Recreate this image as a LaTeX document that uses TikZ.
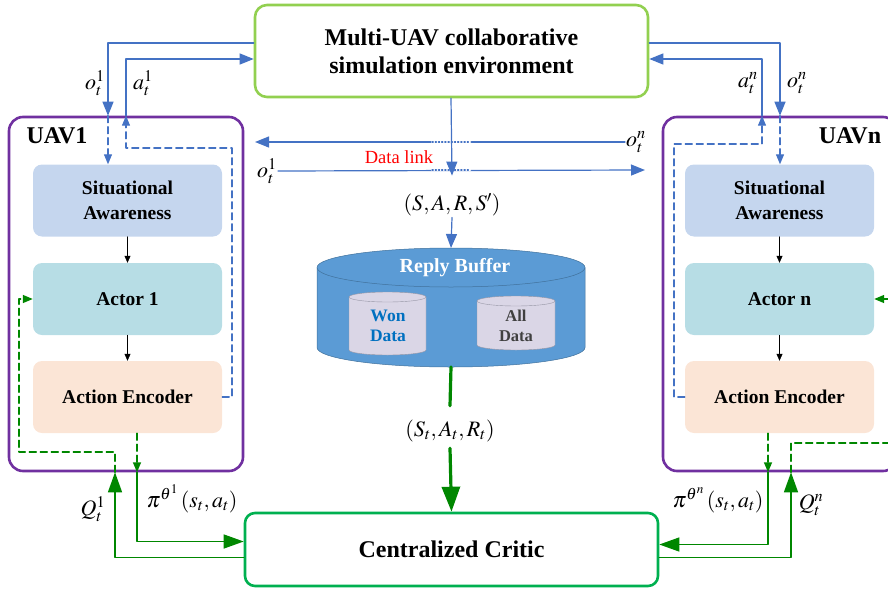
\documentclass[tikz,border=0pt]{standalone}
\usepackage{amsmath}
\usepackage{mathptmx}
\usepackage{fontspec}
\setmainfont{Liberation Serif}
\newfontfamily\tnr{Liberation Serif}
\usetikzlibrary{arrows.meta}

\definecolor{lblue}{RGB}{68,114,196}
\definecolor{lgreen}{RGB}{0,135,0}
\definecolor{envGreen}{RGB}{146,208,80}
\definecolor{critGreen}{RGB}{0,176,80}
\definecolor{uavPurple}{RGB}{112,48,160}
\definecolor{saBlue}{RGB}{197,214,238}
\definecolor{actCyan}{RGB}{183,221,229}
\definecolor{encPeach}{RGB}{251,229,214}
\definecolor{bufBlue}{RGB}{91,155,213}
\definecolor{bufEdge}{RGB}{65,113,156}
\definecolor{dataFill}{RGB}{218,214,230}
\definecolor{dataEdge}{RGB}{150,150,165}
\definecolor{wonBlue}{RGB}{0,112,192}

\begin{document}
\begin{tikzpicture}[line cap=round,line join=round,x=1pt,y=-1pt,
  >={Triangle[length=14pt,width=11pt]},
  bl/.style={color=lblue,line width=1.2pt},
  gl/.style={color=lgreen,line width=1.4pt},
  dsh/.style={dash pattern=on 7pt off 4pt},
  tips/.style={>={Triangle[length=10pt,width=8pt]}},
  tipk/.style={>={Triangle[length=7pt,width=6pt]}},
  tipg/.style={>={Triangle[length=20pt,width=14pt]}},
  tipx/.style={>={Triangle[length=25pt,width=18pt]}},
  blk/.style={rounded corners=9pt,minimum width=189pt,minimum height=72pt,align=center,font=\tnr\fontsize{19.5}{25}\selectfont\bfseries},
  uav/.style={draw=uavPurple,line width=2.6pt,rounded corners=14pt,minimum width=234pt,minimum height=354pt},
  lbl/.style={font=\fontsize{22}{24}\selectfont,inner sep=1pt}]

\useasboundingbox (0,0) rectangle (888,589);
\clip (0,0) rectangle (888,589);

\node[draw=envGreen,line width=2.6pt,rounded corners=12pt,minimum width=393pt,minimum height=92pt,align=center,font=\tnr\fontsize{24}{28}\selectfont\bfseries] (env) at (451.5,51) {Multi-UAV collaborative\\simulation environment};

\node[uav] (uavA) at (126,294) {};
\node[uav] (uavB) at (780,294) {};
\node[font=\tnr\fontsize{24}{26}\selectfont\bfseries] (uavAlbl) at (57,136) {UAV1};
\node[font=\tnr\fontsize{24}{26}\selectfont\bfseries] (uavBlbl) at (850,136) {UAVn};

\node[blk,fill=saBlue] (sa1) at (127.5,200.5) {Situational\\Awareness};
\node[blk,fill=actCyan] (act1) at (127.5,299) {Actor 1};
\node[blk,fill=encPeach] (enc1) at (127.5,397) {Action Encoder};
\node[blk,fill=saBlue] (saN) at (779.5,200.5) {Situational\\Awareness};
\node[blk,fill=actCyan] (actN) at (779.5,299) {Actor n};
\node[blk,fill=encPeach] (encN) at (779.5,397) {Action Encoder};

\draw[->,tipk,line width=0.6pt] (sa1) -- (act1);
\draw[->,tipk,line width=0.6pt] (act1) -- (enc1);
\draw[->,tipk,line width=0.6pt] (saN) -- (actN);
\draw[->,tipk,line width=0.6pt] (actN) -- (encN);

\node[draw=critGreen,line width=2.6pt,rounded corners=10pt,minimum width=413pt,minimum height=73pt,font=\tnr\fontsize{24}{26}\selectfont\bfseries] (critic) at (451.5,549.5) {Centralized Critic};

\draw[fill=bufBlue,draw=bufEdge,line width=0.5pt] (317,267.5) -- (317,347.5) arc[start angle=180,end angle=360,x radius=134pt,y radius=19.5pt] -- (585,267.5) -- cycle;
\draw[fill=bufBlue,draw=bufEdge,line width=0.5pt] (451,267.5) ellipse[x radius=134pt,y radius=19.5pt];
\draw[fill=dataFill,draw=dataEdge,line width=0.4pt] (349,297) -- (349,350) arc[start angle=180,end angle=360,x radius=38.5pt,y radius=5pt] -- (426,297) -- cycle;
\draw[fill=dataFill,draw=dataEdge,line width=0.4pt] (387.5,297) ellipse[x radius=38.5pt,y radius=5pt];
\draw[fill=dataFill,draw=dataEdge,line width=0.4pt] (477,301) -- (477,345) arc[start angle=180,end angle=360,x radius=39pt,y radius=5pt] -- (555,301) -- cycle;
\draw[fill=dataFill,draw=dataEdge,line width=0.4pt] (516,301) ellipse[x radius=39pt,y radius=5pt];
\node[font=\tnr\fontsize{20}{22}\selectfont\bfseries,text=white] (bufLbl) at (455,268) {Reply Buffer};
\node[font=\tnr\fontsize{17.5}{19.5}\selectfont\bfseries,text=wonBlue,align=center] (won) at (388,326) {Won\\Data};
\node[font=\tnr\fontsize{16.5}{19.5}\selectfont\bfseries,text=black!75,align=center] (all) at (516,326) {All\\Data};
\coordinate (bufTop) at (451,248);
\coordinate (bufBot) at (451,367);

\coordinate (o1) at (108,0);
\coordinate (a1) at (126,0);
\coordinate (d1) at (232,0);
\coordinate (p1) at (137,0);
\coordinate (q1) at (115,0);
\coordinate (l1) at (19,0);
\coordinate (r1) at (0,148);
\coordinate (s1) at (0,452);
\coordinate (oN) at (780,0);
\coordinate (aN) at (762,0);
\coordinate (dN) at (674,0);
\coordinate (pN) at (768,0);
\coordinate (qN) at (791,0);
\coordinate (rN) at (0,144);
\coordinate (sN) at (900,443);
\coordinate (actIn) at (900,299);
\coordinate (dlA) at (255,142);
\coordinate (dlB) at (645,170);
\coordinate (hopL) at (432,0);
\coordinate (hopR) at (470,0);

\node[lbl] (o1Top) at (95,83) {$o_t^1$};
\node[lbl] (a1Top) at (143,83) {$a_t^1$};
\node[lbl] (aNTop) at (748,83) {$a_t^n$};
\node[lbl] (oNTop) at (797,83) {$o_t^n$};
\node[lbl] (oNLink) at (636,142) {$o_t^n$};
\node[lbl] (o1Link) at (267,171) {$o_t^1$};
\node[text=red,font=\tnr\fontsize{18.5}{20}\selectfont] (dl) at (399,157) {Data link};
\node[lbl] (sars) at (452,205) {$(S,A,R,S')$};
\node[lbl] (stLbl) at (450,431) {$(S_t,A_t,R_t)$};
\node[lbl] (pi1) at (192,499) {$\pi^{\theta^1}\,(s_t,a_t)$};
\node[lbl] (q1Lbl) at (93,509) {$Q_t^1$};
\node[lbl] (piN) at (718,500) {$\pi^{\theta^n}\,(s_t,a_t)$};
\node[lbl] (qNLbl) at (811,505) {$Q_t^n$};

\draw[bl,->] ([yshift=8pt]env.west) -| (uavA.north -| o1);
\draw[bl,dsh,tips,->] (uavA.north -| o1) -- (sa1.north -| o1);
\draw[bl,->] (uavA.north -| a1) |- ([yshift=-8pt]env.west);
\draw[bl,dsh,tips,->] (enc1.east) -| (d1 |- r1) -| (uavA.north -| a1);

\draw[bl,->] ([yshift=8pt]env.east) -| (uavB.north -| oN);
\draw[bl,dsh,tips,->] (uavB.north -| oN) -- (saN.north -| oN);
\draw[bl,->] (uavB.north -| aN) |- ([yshift=-8pt]env.east);
\draw[bl,dsh,tips,->] (encN.west) -| (dN |- rN) -| (uavB.north -| aN);

\draw[bl,->] (oNLink.west) -- (dlA);
\draw[bl,->] (o1Link.east) -- (dlB);
\draw[white,line width=2.5pt] (hopL |- dlA) -- (hopR |- dlA);
\draw[white,line width=2.5pt] (hopL |- dlB) -- (hopR |- dlB);
\draw[bl,dotted] (hopL |- dlA) -- (hopR |- dlA);
\draw[bl,dotted] (hopL |- dlB) -- (hopR |- dlB);

\draw[bl,->] (env.south -| bufTop) -- ([yshift=17pt]sars.north);
\draw[bl,->] (sars.south) -- (bufTop);

\draw[lgreen,line width=3.2pt] (bufBot) -- ([yshift=13pt]stLbl.north);
\draw[lgreen,line width=3.2pt,tipx,->] ([yshift=-5pt]stLbl.south) -- (critic.north);

\draw[gl,dsh,tips,->] (enc1.south -| p1) -- (uavA.south -| p1);
\draw[gl,tipg,->] (uavA.south -| p1) |- ([yshift=8pt]critic.west);
\draw[gl,tipg,->] ([yshift=-8pt]critic.west) -| (uavA.south -| q1);
\draw[gl,dsh,tips,->] (uavA.south -| q1) |- (l1 |- s1) |- (act1.west);

\draw[gl,dsh,tips,->] (encN.south -| pN) -- (uavB.south -| pN);
\draw[gl,tipg,->] (uavB.south -| pN) |- ([yshift=5pt]critic.east);
\draw[gl,tipg,->] ([yshift=-8pt]critic.east) -| (uavB.south -| qN);
\draw[gl,dsh] (uavB.south -| qN) |- (sN);
\draw[gl,tips,->] (actIn) -- (actN.east);
\end{tikzpicture}
\end{document}
